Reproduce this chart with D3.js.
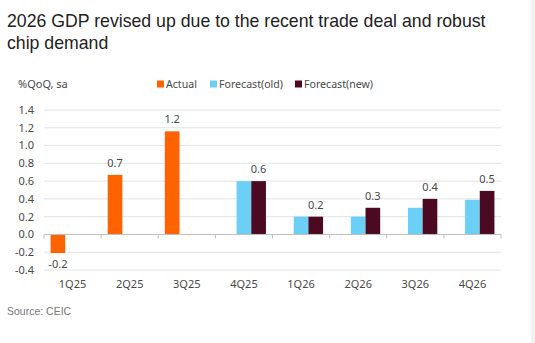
<!DOCTYPE html>
<html>
<head>
<meta charset="utf-8">
<script src="https://cdn.jsdelivr.net/npm/d3@7"></script>
<style>
  body { margin: 0; background: #fff; }
  svg { display: block; }
  .title { font-family: 'Liberation Sans', Arial, sans-serif; font-size: 17.7px; fill: #222; }
  .lbl { font-family: 'Noto Sans', Lato, sans-serif; font-size: 11px; fill: #484848; }
  .leg { font-size: 10.6px; }
  .src { font-family: 'Liberation Sans', Arial, sans-serif; font-size: 10.5px; fill: #777; }
</style>
</head>
<body>
<div id="vis"></div>
<script>
'use strict'

const quarters = ['1Q25', '2Q25', '3Q25', '4Q25', '1Q26', '2Q26', '3Q26', '4Q26']
const seriesNames = ['Actual', 'Forecast(old)', 'Forecast(new)']
const actual = [-0.21, 0.67, 1.16, null, null, null, null, null]
const forecastOld = [null, null, null, 0.6, 0.2, 0.2, 0.3, 0.39]
const forecastNew = [null, null, null, 0.6, 0.2, 0.3, 0.4, 0.49]
const yTicks = [-0.4, -0.2, 0.0, 0.2, 0.4, 0.6, 0.8, 1.0, 1.2, 1.4]
const colors = ['#ff6200', '#6bcff6', '#4b0a22']

const totalWidth = 535
const totalHeight = 343
const margin = { top: 110, left: 44, right: 34, bottom: 73 }
const width = totalWidth - margin.left - margin.right
const height = totalHeight - margin.top - margin.bottom

const svg = d3.select('div#vis')
  .append('svg')
    .attr('width', totalWidth)
    .attr('height', totalHeight)

svg.append('rect')
  .attr('x', 531).attr('y', 0)
  .attr('width', 4).attr('height', totalHeight)
  .attr('fill', '#f3f3f3')

// title
svg.append('text').classed('title', true).attr('x', 7).attr('y', 27)
  .text('2026 GDP revised up due to the recent trade deal and robust')
svg.append('text').classed('title', true).attr('x', 7).attr('y', 49)
  .text('chip demand')

//
// SCALES
//

const x = d3.scaleBand()
  .domain(quarters)
  .range([0, width])
  .padding(0)

const xInner = d3.scaleBand()
  .domain(seriesNames)
  .range([x.bandwidth() * 0.115, x.bandwidth() * 0.885])

const y = d3.scaleLinear()
  .domain([-0.4, 1.4])
  .range([height, 0])

const chart = svg.append('g')
  .attr('transform', 'translate(' + margin.left + ',' + margin.top + ')')

// grid
chart.selectAll('line.grid')
  .data(yTicks.filter(d => d !== 0))
  .join('line')
    .classed('grid', true)
    .attr('x1', 0).attr('x2', width)
    .attr('y1', d => y(d)).attr('y2', d => y(d))
    .attr('stroke', '#e3e3e3')

// y labels
chart.selectAll('text.ytick')
  .data(yTicks)
  .join('text')
    .classed('lbl', true)
    .attr('x', -10)
    .attr('y', d => y(d))
    .attr('dy', '0.35em')
    .attr('text-anchor', 'end')
    .text(d => d3.format('.1f')(d).replace('−', '-'))

// bars
const seriesData = [actual, forecastOld, forecastNew]
const bars = []
seriesData.forEach((vals, si) => {
  vals.forEach((v, qi) => {
    if (v !== null) bars.push({ q: quarters[qi], s: seriesNames[si], v: v, c: colors[si] })
  })
})

chart.selectAll('rect.bar')
  .data(bars)
  .join('rect')
    .classed('bar', true)
    .attr('x', d => x(d.q) + xInner(d.s))
    .attr('width', xInner.bandwidth())
    .attr('y', d => y(Math.max(0, d.v)))
    .attr('height', d => Math.abs(y(d.v) - y(0)))
    .attr('fill', d => d.c)

// value labels on actual and new forecast
const labelled = bars.filter(d => d.s !== 'Forecast(old)')
chart.selectAll('text.val')
  .data(labelled)
  .join('text')
    .classed('lbl', true)
    .attr('x', d => x(d.q) + xInner(d.s) + xInner.bandwidth() / 2)
    .attr('y', d => d.v >= 0 ? y(d.v) - 8 : y(d.v) + 15)
    .attr('text-anchor', 'middle')
    .text(d => d3.format('.1f')(d.v).replace('−', '-'))

// zero axis
chart.append('line')
  .attr('x1', 0).attr('x2', width)
  .attr('y1', y(0)).attr('y2', y(0))
  .attr('stroke', '#bdbdbd')

chart.selectAll('line.tick')
  .data(quarters.concat(['end']))
  .join('line')
    .classed('tick', true)
    .attr('x1', (d, i) => i * x.step()).attr('x2', (d, i) => i * x.step())
    .attr('y1', y(0)).attr('y2', y(0) + 4)
    .attr('stroke', '#bdbdbd')

// category labels
chart.selectAll('text.xtick')
  .data(quarters)
  .join('text')
    .classed('lbl', true)
    .attr('x', d => x(d) + x.bandwidth() / 2)
    .attr('y', height + 18)
    .attr('text-anchor', 'middle')
    .text(d => d)

// unit label
svg.append('text').classed('lbl', true)
  .attr('x', 18).attr('y', 88)
  .text('%QoQ, sa')

// legend
const legendX = [157, 210, 295]
const legend = svg.selectAll('g.legend')
  .data(seriesNames)
  .join('g')
    .attr('transform', (d, i) => 'translate(' + legendX[i] + ',84)')

legend.append('rect')
  .attr('x', 0).attr('y', -3.5)
  .attr('width', 7).attr('height', 7)
  .attr('fill', (d, i) => colors[i])

legend.append('text')
  .classed('lbl', true)
  .classed('leg', true)
  .attr('x', 9).attr('dy', '0.35em')
  .text(d => d)

// source
svg.append('text').classed('src', true)
  .attr('x', 7).attr('y', 315)
  .text('Source: CEIC')
</script>
</body>
</html>
